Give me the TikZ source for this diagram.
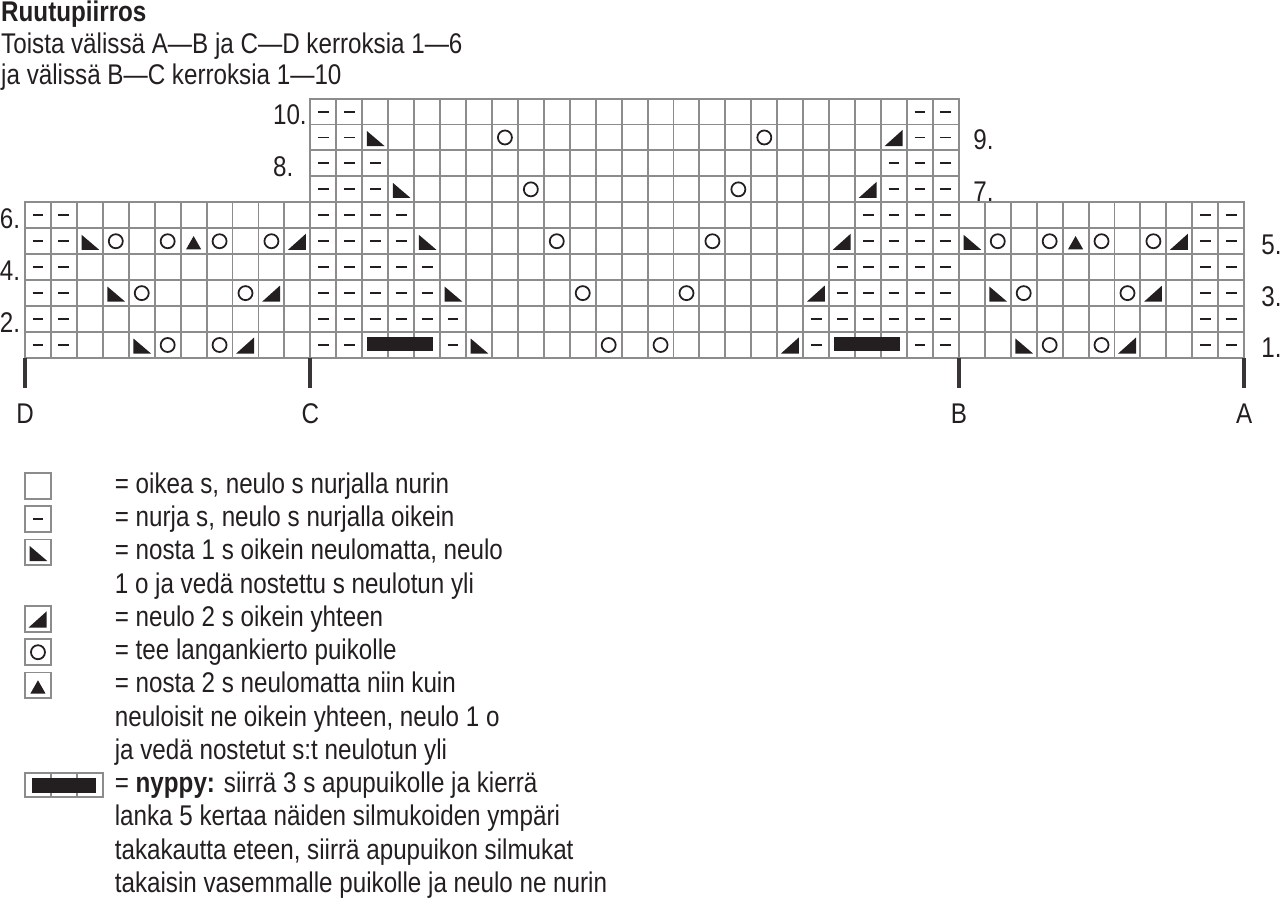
\documentclass[tikz,border=0pt]{standalone}
\usepackage{fontspec}
\setmainfont{Liberation Sans}[FakeStretch=0.85]

\definecolor{ink}{HTML}{231F20}
\definecolor{gridgray}{HTML}{8C8C8C}
\newcommand\chartsize{\fontsize{16.2pt}{18.9pt}\selectfont}

\begin{document}
\begin{tikzpicture}[
  x=0.5188cm, y=0.5188cm,
  gridline/.style={draw=gridgray, line width=1.1pt, line cap=rect},
  symline/.style={draw=ink, line width=1.1pt},
  tickline/.style={draw=ink!90, line width=2.3pt},
  chartlabel/.style={font=\chartsize, text=ink, inner sep=0pt},
  legtext/.style={chartlabel, anchor=base west},
  knit/.pic={\path (0,0);},
  purl/.pic={\draw[symline] (-0.21,0) -- (0.21,0);},
  yarnover/.pic={\draw[symline, line width=1pt] (0,0) circle (0.27);},
  skpo/.pic={\fill[ink] (-0.32,-0.33) -- (0.36,-0.33) -- (-0.32,0.25) -- cycle;},
  ktog/.pic={\fill[ink] (-0.36,-0.33) -- (0.33,-0.33) -- (0.33,0.29) -- cycle;},
  sktwopo/.pic={\fill[ink] (-0.29,-0.31) -- (0.29,-0.31) -- (0,0.2) -- cycle;},
]
\useasboundingbox (-0.964,-20.86) rectangle (48.38,13.80);

% === Heading ===
\node[legtext, font=\chartsize\bfseries] (title) at (-0.93,12.965) {Ruutupiirros};
\node[legtext] (repeat1) at (-0.93,11.746) {Toista välissä A—B ja C—D kerroksia 1—6};
\node[legtext] (repeat2) at (-0.93,10.524) {ja välissä B—C kerroksia 1—10};

% === Grid: rows 1-6 full width, rows 7-10 between C and B ===
\foreach \c in {0,...,47} \draw[gridline] (\c,0) -- (\c,6);
\foreach \r in {0,...,6} \draw[gridline] (0,\r) -- (47,\r);
\foreach \c in {11,...,36} \draw[gridline] (\c,6) -- (\c,10);
\foreach \r in {7,...,10} \draw[gridline] (11,\r) -- (36,\r);

% === Purl stitches ===
\foreach \r in {1,...,6}
  \foreach \c in {1,2,46,47} \pic at (\c-0.5,\r-0.5) {purl};
\foreach \r/\n in {2/6,3/5,4/5,5/4,6/4,7/3,8/3,9/2,10/2}
  \foreach \k in {1,...,\n} {
    \pic at (10.5+\k,\r-0.5) {purl};
    \pic at (36.5-\k,\r-0.5) {purl};
  }
\foreach \c in {12,13,17,31,35,36} \pic at (\c-0.5,0.5) {purl};

% === Middle panel decreases and yarn overs ===
\foreach \r/\c in {1/18,3/17,5/16,7/15,9/14} {
  \pic at (\c-0.5,\r-0.5) {skpo};
  \pic at (47.5-\c,\r-0.5) {ktog};
  \pic at (\c+4.5,\r-0.5) {yarnover};
  \pic at (42.5-\c,\r-0.5) {yarnover};
}

% === Side panels D-C and B-A ===
\foreach \s in {0,34} {
  \foreach \x/\y in {4.5/0.5,3.5/2.5,2.5/4.5} \pic at (\s+\x,\y) {skpo};
  \foreach \x/\y in {8.5/0.5,9.5/2.5,10.5/4.5} \pic at (\s+\x,\y) {ktog};
  \foreach \x/\y in {5.5/0.5,7.5/0.5,4.5/2.5,8.5/2.5,3.5/4.5,5.5/4.5,7.5/4.5,9.5/4.5}
    \pic at (\s+\x,\y) {yarnover};
  \pic at (\s+6.5,4.5) {sktwopo};
}

% === Bobbles ===
\foreach \c in {13,31} \fill[ink] (\c+0.18,0.26) rectangle (\c+2.72,0.8);

% === Row numbers ===
\foreach \r in {2,4,6} \node[legtext] (row\r) at (-0.98,\r-1) {\r.};
\foreach \r in {1,3,5} \node[legtext] (row\r) at (47.65,\r-1) {\r.};
\node[legtext] (row8) at (9.55,7) {8.};
\node[legtext] (row10) at (9.55,9) {10.};
\node[legtext] (row7) at (36.55,6.05) {7.};
\node[legtext] (row9) at (36.55,8.05) {9.};

% === Repeat marks ===
\foreach \c/\l in {0/D,11/C,36/B,47/A} {
  \draw[tickline] (\c,0) -- (\c,-1.16);
  \node[chartlabel, anchor=base] (mark\l) at (\c,-2.51) {\l};
}

% === Legend ===
\foreach \k/\sym in {1/knit,2/purl,3/skpo,5/ktog,6/yarnover,7/sktwopo} {
  \pgfmathsetmacro\yc{-4.934-(\k-1)*1.2818}
  \draw[gridline] (0,\yc-0.5) rectangle (1,\yc+0.5);
  \pic at (0.5,\yc) {\sym};
}
\pgfmathsetmacro\yb{-4.934-9*1.2818}
\draw[gridline] (0,\yb-0.47) rectangle (3,\yb+0.47);
\draw[gridline] (1,\yb-0.47) -- (1,\yb+0.47) (2,\yb-0.47) -- (2,\yb+0.47);
\fill[ink] (0.26,\yb-0.29) rectangle (2.74,\yb+0.29);

\foreach \k/\txt in {
  1/{= oikea s, neulo s nurjalla nurin},
  2/{= nurja s, neulo s nurjalla oikein},
  3/{= nosta 1 s oikein neulomatta, neulo},
  4/{1 o ja vedä nostettu s neulotun yli},
  5/{= neulo 2 s oikein yhteen},
  6/{= tee langankierto puikolle},
  7/{= nosta 2 s neulomatta niin kuin},
  8/{neuloisit ne oikein yhteen, neulo 1 o},
  9/{ja vedä nostetut s:t neulotun yli},
  10/{= \textbf{nyppy:} siirrä 3 s apupuikolle ja kierrä},
  11/{lanka 5 kertaa näiden silmukoiden ympäri},
  12/{takakautta eteen, siirrä apupuikon silmukat},
  13/{takaisin vasemmalle puikolle ja neulo ne nurin}}
  \node[legtext] (leg\k) at (3.45,{-5.223-(\k-1)*1.2818}) {\txt};

\end{tikzpicture}
\end{document}
